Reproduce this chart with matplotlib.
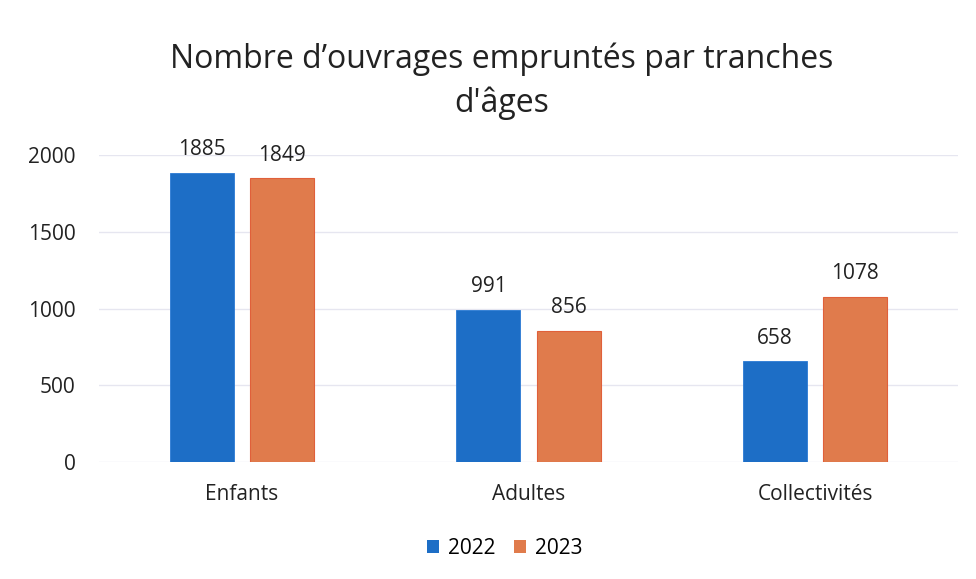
import matplotlib
matplotlib.use("Agg")
import matplotlib.pyplot as plt
import numpy as np
from matplotlib.patches import Patch

categories = ["Enfants", "Adultes", "Collectivités"]
series_names = ["2022", "2023"]
values_2022 = [1885, 991, 658]
values_2023 = [1849, 856, 1078]
yticks = [0, 500, 1000, 1500, 2000]

blue = "#1d6ec6"
orange = "#e07b4c"

plt.rcParams['font.family'] = ['Open Sans', 'DejaVu Sans']

fig = plt.figure(figsize=(9.76, 5.79), dpi=100)
ax = fig.add_axes([0.101, 0.202, 0.881, 0.530])

x = np.arange(len(categories))
w = 0.224
gap = 0.056
off = (w + gap) / 2
b1 = ax.bar(x - off, values_2022, w, color=blue, edgecolor="#2a7ad4", linewidth=0.6, zorder=3,
            label=series_names[0])
b2 = ax.bar(x + off, values_2023, w, color=orange, edgecolor="#e0603a", linewidth=0.8, zorder=3,
            label=series_names[1])

for bars, vals in ((b1, values_2022), (b2, values_2023)):
    for r, v in zip(bars, vals):
        ax.annotate(str(v), (r.get_x() + r.get_width() / 2, v), xytext=(0, 9),
                    textcoords="offset points", ha="center", va="bottom",
                    fontsize=15, color="#222222")

ax.set_xlim(-0.5, 2.5)
ax.set_ylim(0, 2000)
ax.set_yticks(yticks)
ax.set_yticklabels([str(t) for t in yticks], fontsize=15, color="#222222")
ax.set_xticks(x)
ax.set_xticklabels(categories, fontsize=15, color="#222222")
ax.tick_params(axis="x", length=0, pad=16)
ax.tick_params(axis="y", length=0, pad=16.5)
for s in ax.spines.values():
    s.set_visible(False)
ax.yaxis.grid(True, color="#e6e6f0", linewidth=1.0, zorder=0)
ax.set_axisbelow(True)

fig.text(0.514, 0.897, "Nombre d\u2019ouvrages empruntés par tranches", ha="center", va="center",
         fontsize=23, color="#222222")
fig.text(0.514, 0.822, "d'âges", ha="center", va="center", fontsize=23, color="#222222")

handles = [Patch(facecolor=blue, label=series_names[0]), Patch(facecolor=orange, label=series_names[1])]
fig.legend(handles=handles, loc="center", bbox_to_anchor=(0.517, 0.053), ncol=2, frameon=False,
           fontsize=15, handlelength=0.6, handleheight=0.6, handletextpad=0.4, columnspacing=0.9)

fig.savefig("out.png", dpi=100, facecolor="white")
